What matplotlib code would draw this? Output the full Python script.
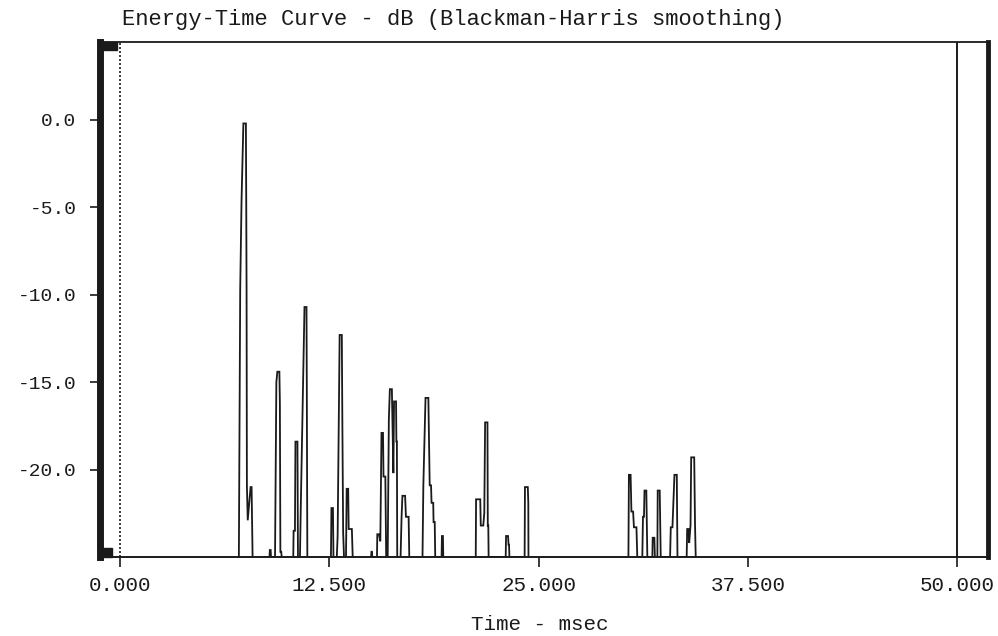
import matplotlib
matplotlib.use("Agg")
import matplotlib.pyplot as plt
from matplotlib.patches import Rectangle

BASE = -25.0

# energy-time trace (msec, dB), one list per burst of reflections
burst1_t = [7.10, 7.18, 7.26, 7.37, 7.52, 7.54, 7.56, 7.58, 7.63, 7.80, 7.86, 7.92]
burst1_db = [BASE, -9.7, -4.6, -0.2, -0.2, -4.6, -9.7, -20.9, -22.9, -21.0, -21.0, BASE]

burst2_t = [8.93, 8.95, 9.00, 9.02, 9.26, 9.34, 9.40, 9.52, 9.55, 9.58, 9.63, 9.66]
burst2_db = [BASE, -24.6, -24.6, BASE, BASE, -15.0, -14.4, -14.4, -16.2, -24.7, -24.7, BASE]

burst3_t = [10.35, 10.37, 10.45, 10.48, 10.60, 10.63, 10.75, 10.80, 11.02, 11.14, 11.16, 11.19]
burst3_db = [BASE, -23.5, -23.5, -18.4, -18.4, BASE, BASE, -22.1, -10.7, -10.7, -15.6, BASE]

burst4_t = [12.60, 12.63, 12.72, 12.75, 12.95, 13.00, 13.12, 13.25, 13.28, 13.33, 13.38,
            13.50, 13.54, 13.63, 13.66, 13.85, 13.90]
burst4_db = [BASE, -22.2, -22.2, BASE, BASE, -23.8, -12.3, -12.3, -17.0, -23.6, BASE,
             BASE, -21.1, -21.1, -23.4, -23.4, BASE]

burst5_t = [15.00, 15.02, 15.05, 15.07, 15.35, 15.37, 15.47, 15.55, 15.62, 15.71, 15.74,
            15.85, 15.90, 15.99, 16.06, 16.12, 16.24, 16.27, 16.33, 16.37, 16.49, 16.51,
            16.54, 16.56, 16.76, 16.82, 16.87, 17.03, 17.08, 17.24, 17.28]
burst5_db = [BASE, -24.7, -24.7, BASE, BASE, -23.7, -23.7, -24.1, -17.9, -17.9, -20.4,
             -20.4, BASE, BASE, -17.1, -15.4, -15.4, -17.0, -20.2, -16.1, -16.1, -18.4,
             -18.4, BASE, BASE, -22.7, -21.5, -21.5, -22.7, -22.7, BASE]

burst6_t = [18.07, 18.12, 18.25, 18.42, 18.50, 18.58, 18.61, 18.71, 18.73, 18.80, 18.83,
            19.21, 19.23, 19.29, 19.31]
burst6_db = [BASE, -20.9, -15.9, -15.9, -20.9, -20.9, -21.9, -21.9, -23.0, -23.0, BASE,
             BASE, -23.8, -23.8, BASE]

burst7_t = [21.25, 21.27, 21.52, 21.55, 21.70, 21.76, 21.81, 21.95, 21.97, 22.00, 22.02,
            23.04, 23.06, 23.18, 23.21, 23.24, 23.26,
            24.17, 24.19, 24.36, 24.39, 24.40]
burst7_db = [BASE, -21.7, -21.7, -23.2, -23.2, -22.5, -17.3, -17.3, -23.2, -23.2, BASE,
             BASE, -23.8, -23.8, -24.3, -24.3, BASE,
             BASE, -21.0, -21.0, -21.9, BASE]

burst8_t = [30.37, 30.40, 30.50, 30.55, 30.65, 30.70, 30.85, 30.90,
            31.20, 31.24, 31.30, 31.33, 31.44, 31.50,
            31.80, 31.82, 31.92, 31.95,
            32.10, 32.12, 32.24, 32.30,
            32.86, 32.90, 33.00, 33.12, 33.26, 33.30,
            33.85, 33.88, 33.96, 34.00, 34.08, 34.12, 34.30, 34.35, 34.39]
burst8_db = [BASE, -20.3, -20.3, -22.4, -22.4, -23.3, -23.3, BASE,
             BASE, -22.7, -22.7, -21.2, -21.2, BASE,
             BASE, -23.9, -23.9, BASE,
             BASE, -21.2, -21.2, BASE,
             BASE, -23.3, -23.3, -20.3, -20.3, BASE,
             BASE, -23.4, -23.4, -24.2, -23.2, -19.3, -19.3, -23.2, BASE]

bursts = [(burst1_t, burst1_db), (burst2_t, burst2_db), (burst3_t, burst3_db),
          (burst4_t, burst4_db), (burst5_t, burst5_db), (burst6_t, burst6_db),
          (burst7_t, burst7_db), (burst8_t, burst8_db)]

x_ticks = [0.0, 12.5, 25.0, 37.5, 50.0]
x_ticklabels = ["0.000", "12.500", "25.000", "37.500", "50.000"]
y_ticks = [0.0, -5.0, -10.0, -15.0, -20.0]
y_ticklabels = ["0.0", "-5.0", "-10.0", "-15.0", "-20.0"]

MONO = "Liberation Mono"
INK = "#1a1a1a"

fig = plt.figure(figsize=(9.98, 6.36), dpi=100)
ax = fig.add_axes([100 / 998, 1 - 557 / 636, 888 / 998, 515 / 636])

for t, db in bursts:
    ax.plot(t, db, color=INK, lw=1.3, solid_joinstyle="miter")

# markers at t=0 (dotted) and end of window (solid)
ax.axvline(0.0, color=INK, lw=1.2, ls=(0, (1.2, 1.2)))
ax.axvline(50.0, color=INK, lw=1.4)

ax.set_xlim(-1.195, 51.85)
ax.set_ylim(BASE, 4.46)

ax.set_xticks(x_ticks)
ax.set_xticklabels(x_ticklabels)
ax.set_yticks(y_ticks)
ax.set_yticklabels(y_ticklabels)
ax.tick_params(axis="both", direction="out", length=7, width=1.2, color=INK,
               labelsize=15, labelcolor=INK)
ax.tick_params(axis="x", pad=7)
ax.tick_params(axis="y", pad=10, labelsize=14)
for lab in ax.get_xticklabels() + ax.get_yticklabels():
    lab.set_family(MONO)

ax.spines["left"].set_linewidth(5)
ax.spines["right"].set_linewidth(3.5)
ax.spines["top"].set_linewidth(1.3)
ax.spines["bottom"].set_linewidth(1.4)
for s in ax.spines.values():
    s.set_color(INK)

# little filled corner feet of the plotter frame
ax.add_patch(Rectangle((0, 0), 0.014, 0.018, transform=ax.transAxes,
                       color=INK, clip_on=False))
ax.add_patch(Rectangle((0, 0.984), 0.019, 0.016, transform=ax.transAxes,
                       color=INK, clip_on=False))

fig.text(122 / 998, 1 - 19 / 636, "Energy-Time Curve - dB (Blackman-Harris smoothing)",
         family=MONO, fontsize=15.9, color=INK, ha="left", va="center")
fig.text(540 / 998, 1 - 624 / 636, "Time - msec", family=MONO, fontsize=15,
         color=INK, ha="center", va="center")

fig.savefig("out.png", dpi=100, facecolor="white")
